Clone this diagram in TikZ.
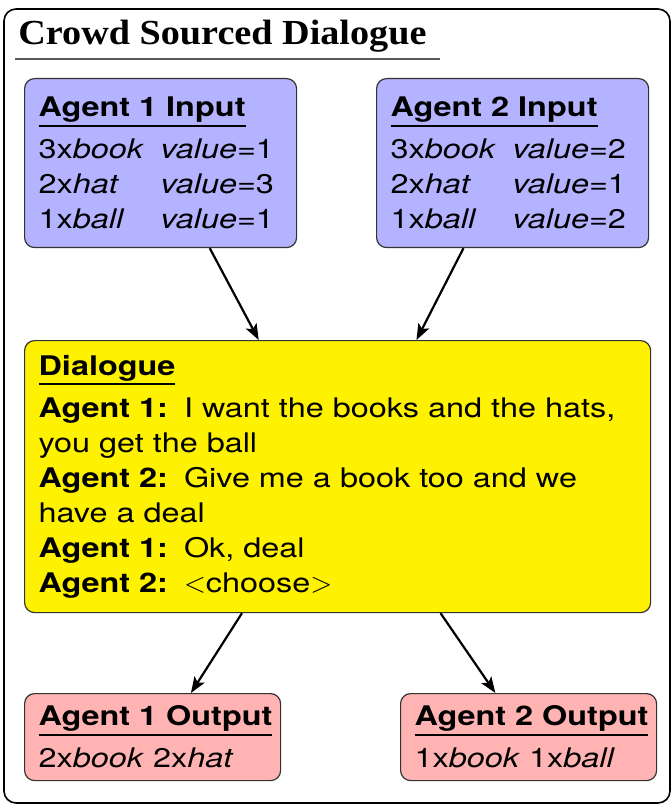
\documentclass[tikz,border=0pt]{standalone}
\usepackage{fontspec}
\setmainfont{TeX Gyre Heros}[FakeStretch=1.2]
\newfontfamily\titlefont{Liberation Serif}[FakeStretch=1.085]
\usetikzlibrary{arrows.meta}
\definecolor{inblue}{HTML}{B3B3FF}
\definecolor{dlgyellow}{HTML}{FFF200}
\definecolor{outpink}{HTML}{FFB3B3}
\definecolor{edgegray}{HTML}{333333}

% underlined box heading, rule as wide as the heading
\newsavebox{\headbox}
\newcommand{\boxhead}[1]{\sbox{\headbox}{\bfseries #1}\usebox{\headbox}\\[-12.5pt]
  \rule{\wd\headbox}{0.9pt}\\[-1.5pt]}
% one line of goods: count/item, then value
\newcommand{\goodsrow}[2]{\makebox[61pt][l]{#1}#2}

\begin{document}
\begin{tikzpicture}[x=1pt,y=-1pt,
  box/.style={draw=edgegray,line width=0.6pt,rounded corners=5pt,
              anchor=north west,align=left,inner xsep=7pt,inner ysep=0pt,
              font=\fontsize{13.5}{17.5}\selectfont},
  inbox/.style={box,fill=inblue,text width=122pt,minimum height=84.5pt},
  dlgbox/.style={box,fill=dlgyellow,text width=299pt,minimum height=136pt},
  outbox/.style={box,fill=outpink,text width=114pt,minimum height=43.5pt},
  arr/.style={-{Stealth[length=8pt,width=6pt,inset=1.8pt]},line width=1.1pt}
]
  \useasboundingbox (0,0) rectangle (336,403.5);

  % ---- Outer frame and title -----------------------------------
  \draw[line width=0.8pt,rounded corners=6pt] (2,4.5) rectangle (335,401.5);
  \node[anchor=base west,inner sep=0pt,
        font=\titlefont\fontsize{17.6}{20}\selectfont\bfseries] (title) at (9,22.5)
    {Crowd Sourced Dialogue};
  \draw[line width=1.3pt,black!65] (7.5,29.5) -- (220,29.5);

  % ---- Agent inputs --------------------------------------------
  \node[inbox] (in1) at (12,39)
    {\boxhead{Agent 1 Input}
     \goodsrow{3x\textit{book}}{\textit{value}=1}\\
     \goodsrow{2x\textit{hat}}{\textit{value}=3}\\
     \goodsrow{1x\textit{ball}}{\textit{value}=1}};
  \node[inbox] (in2) at (188,39)
    {\boxhead{Agent 2 Input}
     \goodsrow{3x\textit{book}}{\textit{value}=2}\\
     \goodsrow{2x\textit{hat}}{\textit{value}=1}\\
     \goodsrow{1x\textit{ball}}{\textit{value}=2}};

  % ---- Dialogue ------------------------------------------------
  \node[dlgbox] (dlg) at (12,170)
    {\boxhead{Dialogue}
     \textbf{Agent 1:}\hspace{8pt}I want the books and the hats,\\
     you get the ball\\
     \textbf{Agent 2:}\hspace{8pt}Give me a book too and we\\
     have a deal\\
     \textbf{Agent 1:}\hspace{8pt}Ok, deal\\
     \textbf{Agent 2:}\hspace{8pt}$<$choose$>$};

  % ---- Agent outputs -------------------------------------------
  \node[outbox] (out1) at (12,346.5)
    {\boxhead{Agent 1 Output}
     2x\textit{book} 2x\textit{hat}};
  \node[outbox] (out2) at (200,346.5)
    {\boxhead{Agent 2 Output}
     1x\textit{book} 1x\textit{ball}};

  % Arrows
  \draw[arr] (in1.-60) -- (dlg.120);
  \draw[arr] (in2.-120) -- (dlg.60);
  \draw[arr] (dlg.-125.5) -- (out1.49.6);
  \draw[arr] (dlg.-53.7) -- (out2.127.6);

\end{tikzpicture}
\end{document}
